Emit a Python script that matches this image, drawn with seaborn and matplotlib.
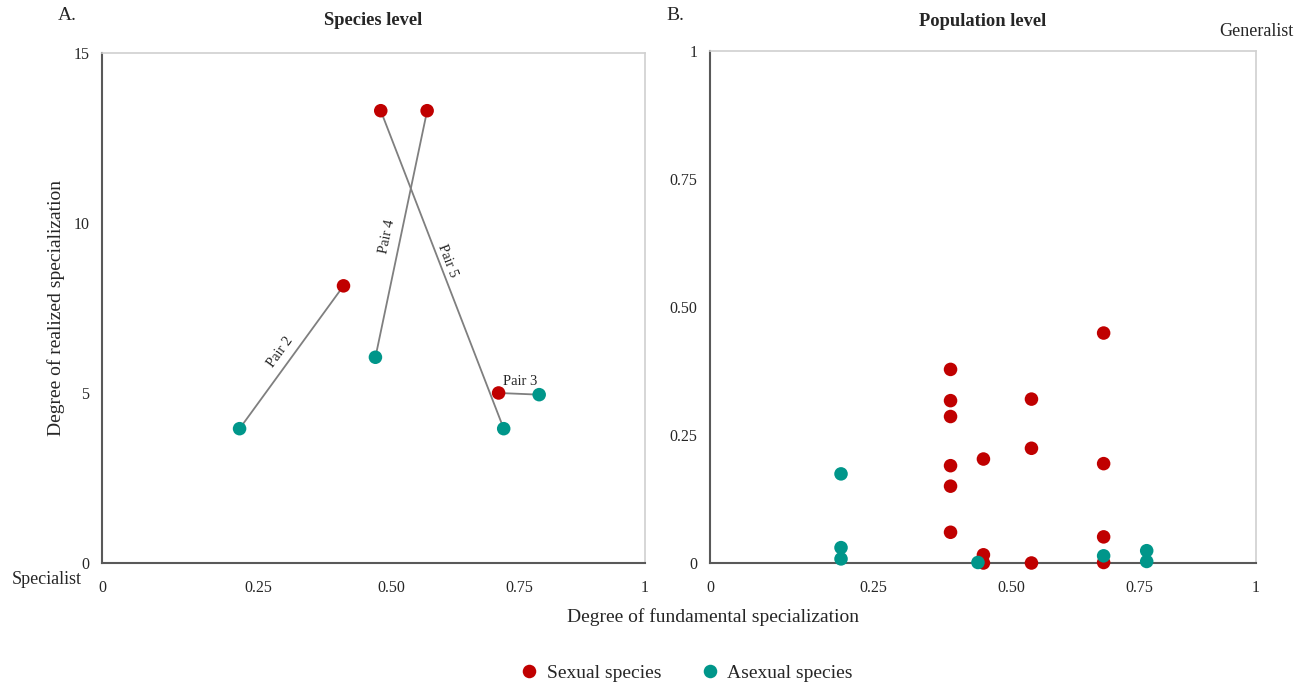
import numpy as np
import pandas as pd
import matplotlib
matplotlib.use("Agg")
import matplotlib.pyplot as plt
import seaborn as sns

# ---- data ----
# panel A: species level, pairs of sexual / asexual species
pair_names = ["Pair 2", "Pair 3", "Pair 4", "Pair 5"]
sex_fund_A = [0.41, 0.71, 0.57, 0.48]
sex_real_A = [8.15, 5.0, 13.3, 13.3]
asex_fund_A = [0.22, 0.79, 0.47, 0.72]
asex_real_A = [3.95, 4.95, 6.05, 3.95]

# panel B: population level
sex_fund_B = [0.39, 0.39, 0.39, 0.39, 0.39, 0.39, 0.45, 0.45, 0.45,
              0.54, 0.54, 0.54, 0.68, 0.68, 0.68, 0.68]
sex_real_B = [0.378, 0.317, 0.286, 0.190, 0.150, 0.060, 0.203, 0.016, 0.0,
              0.320, 0.224, 0.0, 0.449, 0.194, 0.051, 0.001]
asex_fund_B = [0.20, 0.20, 0.20, 0.44, 0.68, 0.765, 0.765]
asex_real_B = [0.174, 0.030, 0.008, 0.001, 0.014, 0.024, 0.003]

tick_vals = [0, 0.25, 0.5, 0.75, 1]
tick_labs = ["0", "0.25", "0.50", "0.75", "1"]
# where the x tick labels sit along each axis (fraction of width)
fracs_A = [0, 0.288, 0.533, 0.768, 1]
fracs_B = [0, 0.300, 0.551, 0.787, 1]

red = "#c00000"
teal = "#00968a"
pal = {"Sexual species": red, "Asexual species": teal}

sns.set_style("white")
plt.rcParams["font.family"] = ["Liberation Serif", "DejaVu Serif"]

fig = plt.figure(figsize=(13.07, 6.87), dpi=100)
axA = fig.add_axes([0.078, 0.1805, 0.4155, 0.7425])
axB = fig.add_axes([0.5432, 0.1805, 0.4178, 0.7455])


def piecewise(fr):
    fwd = lambda v: np.interp(v, tick_vals, fr)
    inv = lambda v: np.interp(v, fr, tick_vals)
    return fwd, inv


dfA = pd.DataFrame({
    "fund": sex_fund_A + asex_fund_A,
    "real": sex_real_A + asex_real_A,
    "kind": ["Sexual species"] * 4 + ["Asexual species"] * 4,
})
dfB = pd.DataFrame({
    "fund": sex_fund_B + asex_fund_B,
    "real": sex_real_B + asex_real_B,
    "kind": ["Sexual species"] * len(sex_fund_B) + ["Asexual species"] * len(asex_fund_B),
})

axA.set_xscale("function", functions=piecewise(fracs_A))
axB.set_xscale("function", functions=piecewise(fracs_B))

# lines connecting pairs
for i in range(len(pair_names)):
    axA.plot([sex_fund_A[i], asex_fund_A[i]], [sex_real_A[i], asex_real_A[i]],
             color="#7f7f7f", lw=1.3, zorder=1)

sns.scatterplot(data=dfA, x="fund", y="real", hue="kind", palette=pal, s=95,
                edgecolor="none", legend=False, ax=axA, zorder=3)
sns.scatterplot(data=dfB, x="fund", y="real", hue="kind", palette=pal, s=95,
                edgecolor="none", ax=axB, zorder=3, clip_on=False)

# pair labels
axA.text(0.292, 6.2, "Pair 2", rotation=54, ha="center", va="center", fontsize=10.5)
axA.text(0.492, 9.6, "Pair 4", rotation=78, ha="center", va="center", fontsize=10.5)
axA.text(0.610, 8.9, "Pair 5", rotation=-69, ha="center", va="center", fontsize=10.5)
axA.text(0.752, 5.35, "Pair 3", rotation=0, ha="center", va="center", fontsize=10.5)

axA.set_xlim(0, 1)
axA.set_ylim(0, 15)
axA.set_yticks([0, 5, 10, 15])
axA.set_yticklabels(["0", "5", "10", "15"])
axB.set_xlim(0, 1)
axB.set_ylim(0, 1)
axB.set_yticks(tick_vals)
axB.set_yticklabels(tick_labs)

for ax in (axA, axB):
    ax.set_xticks(tick_vals)
    ax.set_xticklabels(tick_labs)
    ax.tick_params(length=0, labelsize=11.5, colors="#262626")
    ax.tick_params(axis="y", pad=9)
    ax.tick_params(axis="x", pad=12)
    ax.set_xlabel("")
    ax.set_ylabel("")
    for s in ("left", "bottom"):
        ax.spines[s].set_color("#595959")
        ax.spines[s].set_linewidth(1.5)
    for s in ("top", "right"):
        ax.spines[s].set_color("#d0d0d0")
        ax.spines[s].set_linewidth(1.2)

axA.set_ylabel("Degree of realized specialization", fontsize=14, labelpad=6)
axA.set_title("Species level", fontsize=13.3, fontweight="bold", pad=20)
axB.set_title("Population level", fontsize=13.3, fontweight="bold", pad=18)

fig.text(67 / 1307, 1 - 15 / 687, "A.", fontsize=14, ha="center", va="center")
fig.text(675 / 1307, 1 - 15 / 687, "B.", fontsize=14, ha="center", va="center")
fig.text(1294 / 1307, 1 - 32 / 687, "Generalist", fontsize=13, ha="right", va="center")
fig.text(82 / 1307, 1 - 580 / 687, "Specialist", fontsize=13, ha="right", va="center")
fig.text(713 / 1307, 1 - 617 / 687, "Degree of fundamental specialization",
         fontsize=14, ha="center", va="center")

handles, labels = axB.get_legend_handles_labels()
axB.legend_.remove()
fig.legend(handles, labels, loc="center", bbox_to_anchor=(686 / 1307, 1 - 673 / 687),
           ncol=2, frameon=False, fontsize=14, handlelength=1.0, handletextpad=0.4,
           columnspacing=2.0, markerscale=1.0)

fig.savefig("out.png", dpi=100)
